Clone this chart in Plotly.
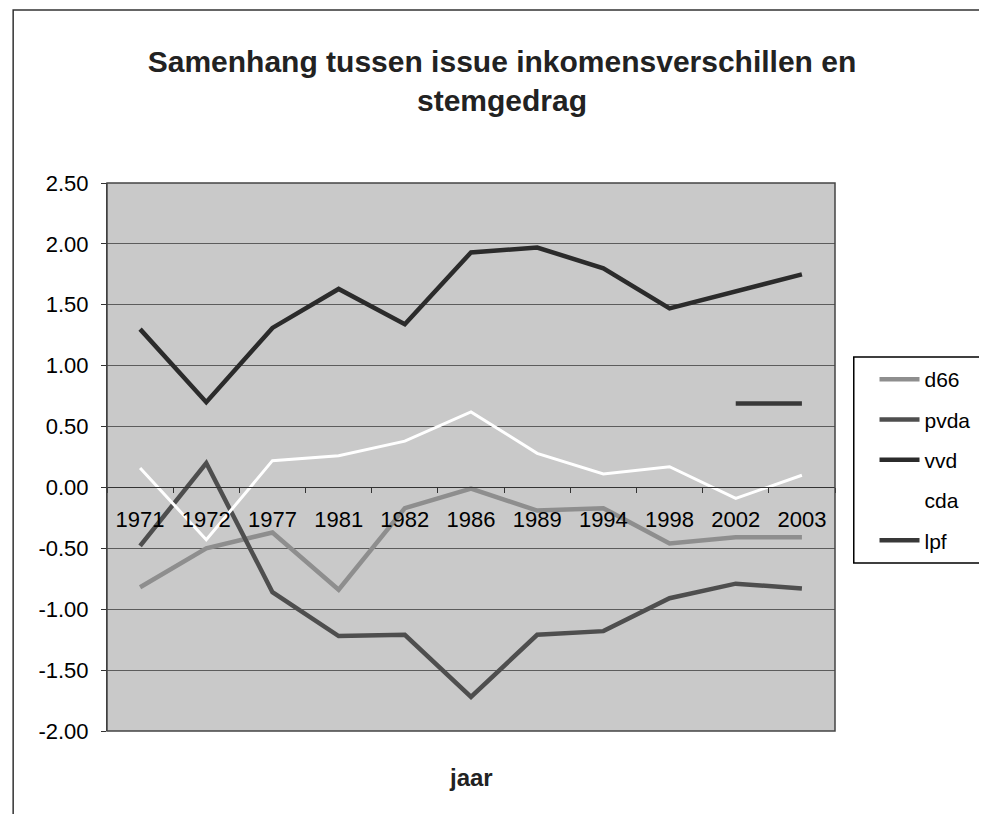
import plotly.graph_objects as go

# categories (election years) and series values
years = ['1971', '1972', '1977', '1981', '1982', '1986', '1989', '1994', '1998', '2002', '2003']
d66 = [-0.82, -0.50, -0.37, -0.84, -0.17, -0.01, -0.19, -0.17, -0.46, -0.41, -0.41]
pvda = [-0.48, 0.20, -0.86, -1.22, -1.21, -1.72, -1.21, -1.18, -0.91, -0.79, -0.83]
vvd = [1.30, 0.70, 1.31, 1.63, 1.34, 1.93, 1.97, 1.80, 1.47, 1.61, 1.75]
cda = [0.16, -0.43, 0.22, 0.26, 0.38, 0.62, 0.28, 0.11, 0.17, -0.09, 0.10]
lpf = [None, None, None, None, None, None, None, None, None, 0.69, 0.69]

y_ticks = [-2.0, -1.5, -1.0, -0.5, 0.0, 0.5, 1.0, 1.5, 2.0, 2.5]
y_tick_labels = ['%.2f' % v for v in y_ticks]

FONT = 'Liberation Sans, Arial, sans-serif'

series = [
    ('d66', d66, '#8e8e8e', 4.5),
    ('pvda', pvda, '#4e4e4e', 4.5),
    ('vvd', vvd, '#2b2b2b', 4.5),
    ('cda', cda, '#ffffff', 3),
    ('lpf', lpf, '#383838', 4.5),
]

fig = go.Figure()

for name, values, color, width in series:
    fig.add_trace(go.Scatter(
        x=years,
        y=values,
        mode='lines',
        name=name,
        legendgroup=name,
        line=dict(color=color, width=width),
        connectgaps=False
    ))

# the page body adds an 8px margin, so work in page pixels and subtract it
OFF = 8
W, H = 987 - OFF, 814 - OFF
L, R, T, B = 107 - OFF, 844 - OFF, 183 - OFF, 731 - OFF
pw, ph = R - L, B - T


def px_x(v):
    # page pixel -> paper fraction
    return (v - OFF - L) / pw


def px_y(v):
    return (B - (v - OFF)) / ph


fig.update_layout(
    width=W,
    height=H,
    margin=dict(l=L, r=W - R, t=T, b=H - B, pad=0),
    paper_bgcolor='white',
    plot_bgcolor='#c9c9c9',
    font=dict(family=FONT, color='black', size=22),
    title=dict(
        text='<b>Samenhang tussen issue inkomensverschillen en<br>stemgedrag</b>',
        x=(502 - OFF) / W,
        xanchor='center',
        y=1 - 64 / H,
        yanchor='middle',
        font=dict(family=FONT, size=30, color='#222222')
    ),
    showlegend=True,
    legend=dict(
        x=px_x(884),
        y=px_y(359),
        xanchor='left',
        yanchor='top',
        bgcolor='rgba(0,0,0,0)',
        borderwidth=0,
        font=dict(family=FONT, size=21, color='black'),
        tracegroupgap=10,
        itemwidth=40
    ),
    xaxis=dict(
        type='category',
        range=[-0.5, len(years) - 0.5],
        anchor='free',
        position=2 / 4.5,
        showgrid=False,
        showline=True,
        linecolor='#333333',
        linewidth=1,
        ticks='outside',
        tickson='boundaries',
        ticklen=5,
        tickcolor='#333333',
        ticklabelstandoff=12,
        tickfont=dict(family=FONT, size=22, color='black'),
        zeroline=False
    ),
    yaxis=dict(
        range=[-2, 2.5],
        tickvals=y_ticks,
        ticktext=y_tick_labels,
        showgrid=True,
        gridcolor='#5c5c5c',
        gridwidth=1,
        zeroline=False,
        showline=True,
        linecolor='#333333',
        linewidth=1,
        ticks='outside',
        ticklen=5,
        tickcolor='#333333',
        ticklabelstandoff=8,
        tickfont=dict(family=FONT, size=22, color='black')
    ),
    shapes=[
        # plot area frame
        dict(type='rect', xref='paper', yref='paper', x0=0, y0=0, x1=1, y1=1,
             line=dict(color='#444444', width=1.5), layer='above'),
        # outer chart frame (runs off the right and bottom edge)
        dict(type='rect', xref='paper', yref='paper',
             x0=px_x(12), y0=px_y(840), x1=px_x(1000), y1=px_y(10),
             line=dict(color='#333333', width=1.5), layer='above'),
        # legend box (cut off by the right edge like the scan)
        dict(type='rect', xref='paper', yref='paper',
             x0=px_x(863), y0=px_y(563), x1=px_x(1000), y1=px_y(357),
             fillcolor='white', line=dict(color='black', width=1.5), layer='above'),
    ],
    annotations=[
        dict(text='<b>jaar</b>', xref='paper', yref='paper',
             x=px_x(475), y=px_y(777), xanchor='center', yanchor='middle',
             showarrow=False, font=dict(family=FONT, size=24, color='#222222'))
    ]
)

fig.write_html("out.html")
